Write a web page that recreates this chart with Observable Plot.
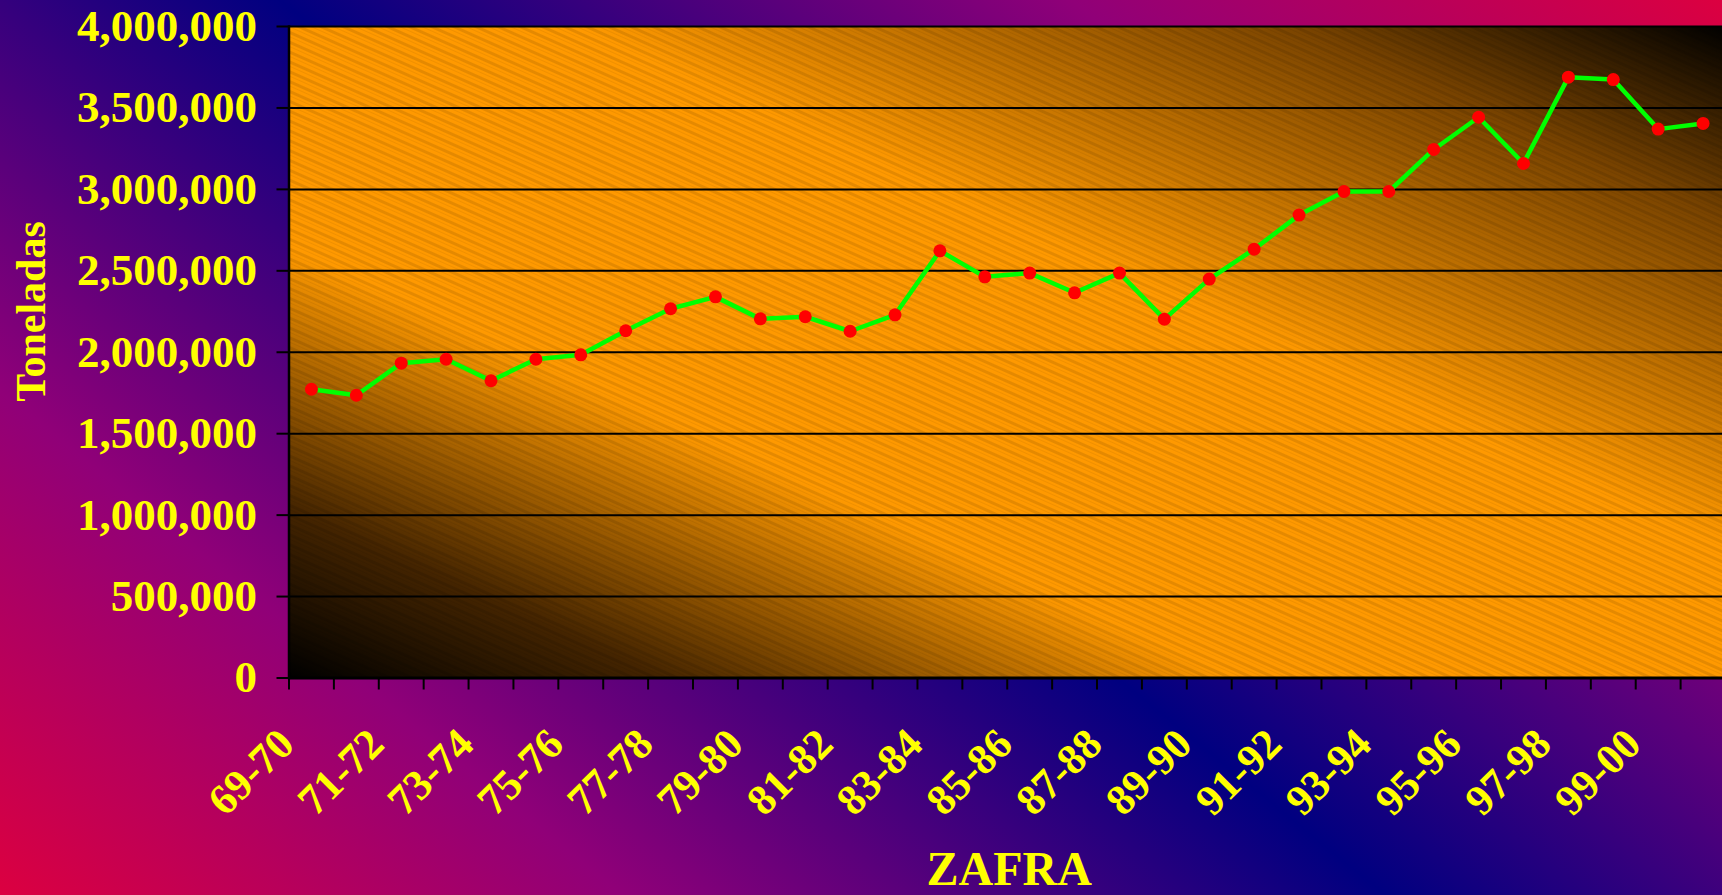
<!DOCTYPE html>
<html>
<head>
<meta charset="utf-8">
<script src="https://cdn.jsdelivr.net/npm/d3@7"></script>
<script src="https://cdn.jsdelivr.net/npm/@observablehq/plot@0.6"></script>
<style>
  html, body { margin: 0; padding: 0; width: 1722px; height: 895px; overflow: hidden; }
  body { background: linear-gradient(39deg, #dc0040 0%, #900078 22%, #000080 49%, #900078 77%, #dc0040 100%); }
  #chart svg { display: block; overflow: hidden; background: transparent; }
</style>
</head>
<body>
<div id="chart"></div>
<script>
// Zafra (harvest season) categories
const zafras = [
  "69-70","70-71","71-72","72-73","73-74","74-75","75-76","76-77","77-78","78-79",
  "79-80","80-81","81-82","82-83","83-84","84-85","85-86","86-87","87-88","88-89",
  "89-90","90-91","91-92","92-93","93-94","94-95","95-96","96-97","97-98","98-99",
  "99-00","00-01"
];
// Toneladas (tonnes) per zafra
const toneladas = [
  1773000, 1736000, 1933000, 1957000, 1825000, 1957000, 1984000, 2132000, 2267000, 2340000,
  2205000, 2218000, 2129000, 2230000, 2623000, 2463000, 2486000, 2365000, 2486000, 2203000,
  2449000, 2633000, 2842000, 2987000, 2987000, 3245000, 3443000, 3159000, 3689000, 3674000,
  3370000, 3405000
];
// Labelled x ticks (every other zafra)
const xTickLabels = ["69-70","71-72","73-74","75-76","77-78","79-80","81-82","83-84",
  "85-86","87-88","89-90","91-92","93-94","95-96","97-98","99-00"];
// Y ticks
const yTicks = [0, 500000, 1000000, 1500000, 2000000, 2500000, 3000000, 3500000, 4000000];
const yLabel = "Toneladas";
const xLabel = "ZAFRA";

const data = zafras.map((z, i) => ({zafra: z, t: toneladas[i]}));

const FONT = "'Liberation Serif', 'Times New Roman', serif";
const YELLOW = "#ffff00";

const chart = Plot.plot({
  width: 1722,
  height: 895,
  marginLeft: 288.5,
  marginRight: -3,
  marginTop: 26,
  marginBottom: 217.5,
  style: {background: "transparent", fontFamily: FONT},
  x: {type: "band", domain: zafras, padding: 0, round: false, axis: null},
  y: {domain: [0, 4000000], axis: null},
  marks: [
    Plot.frame({fill: "url(#plotGrad)", stroke: "none"}),
    Plot.frame({fill: "url(#hatch)", stroke: "none"}),
    Plot.ruleY(yTicks, {stroke: "black", strokeWidth: 2}),
    Plot.ruleY([0], {stroke: "black", strokeWidth: 3}),
    Plot.frame({anchor: "left", stroke: "black", strokeWidth: 2.5}),
    Plot.axisY({
      ticks: yTicks, tickSize: 12, tickPadding: 20, tickFormat: d3.format(","),
      stroke: "black", strokeWidth: 2, fill: YELLOW, fontSize: 45, fontWeight: "bold",
      fontFamily: FONT, label: null
    }),
    Plot.axisX({
      ticks: zafras, tickSize: 12, tickFormat: () => "", dx: -22.45,
      stroke: "black", strokeWidth: 2, label: null
    }),
    Plot.text(xTickLabels, {
      x: d => d, frameAnchor: "bottom", rotate: -45, textAnchor: "end", lineAnchor: "bottom",
      dx: -15, dy: 68.5, fill: YELLOW, fontSize: 43, fontWeight: "bold", fontFamily: FONT
    }),
    Plot.line(data, {x: "zafra", y: "t", stroke: "#00ff00", strokeWidth: 4.5}),
    Plot.dot(data, {x: "zafra", y: "t", r: 6.5, fill: "#ff0000", stroke: "none"}),
    Plot.text([yLabel], {
      frameAnchor: "left", rotate: -90, textAnchor: "middle", lineAnchor: "middle",
      dx: -257.5, dy: -40.75, fill: YELLOW, fontSize: 42, fontWeight: "bold", fontFamily: FONT
    }),
    Plot.text([xLabel], {
      frameAnchor: "bottom", textAnchor: "middle", lineAnchor: "bottom",
      dx: 2, dy: 206.5, fill: YELLOW, fontSize: 48, fontWeight: "bold", fontFamily: FONT
    })
  ]
});

// gradient + hatch definitions for the plot area
const ns = "http://www.w3.org/2000/svg";
const defs = document.createElementNS(ns, "defs");
defs.innerHTML = `
  <linearGradient id="plotGrad" x1="0" y1="1" x2="1" y2="0">
    <stop offset="0" stop-color="#000000"/>
    <stop offset="0.13" stop-color="#442400"/>
    <stop offset="0.33" stop-color="#ff9900"/>
    <stop offset="0.6" stop-color="#ff9900"/>
    <stop offset="0.85" stop-color="#7a4400"/>
    <stop offset="1" stop-color="#000000"/>
  </linearGradient>
  <pattern id="hatch" patternUnits="userSpaceOnUse" width="40" height="9" patternTransform="rotate(24)">
    <rect x="0" y="0" width="40" height="3" fill="#000" fill-opacity="0.10"/>
    <rect x="0" y="5" width="40" height="1" fill="#000" fill-opacity="0.06"/>
  </pattern>`;
chart.insertBefore(defs, chart.firstChild);

document.getElementById("chart").appendChild(chart);
</script>
</body>
</html>
